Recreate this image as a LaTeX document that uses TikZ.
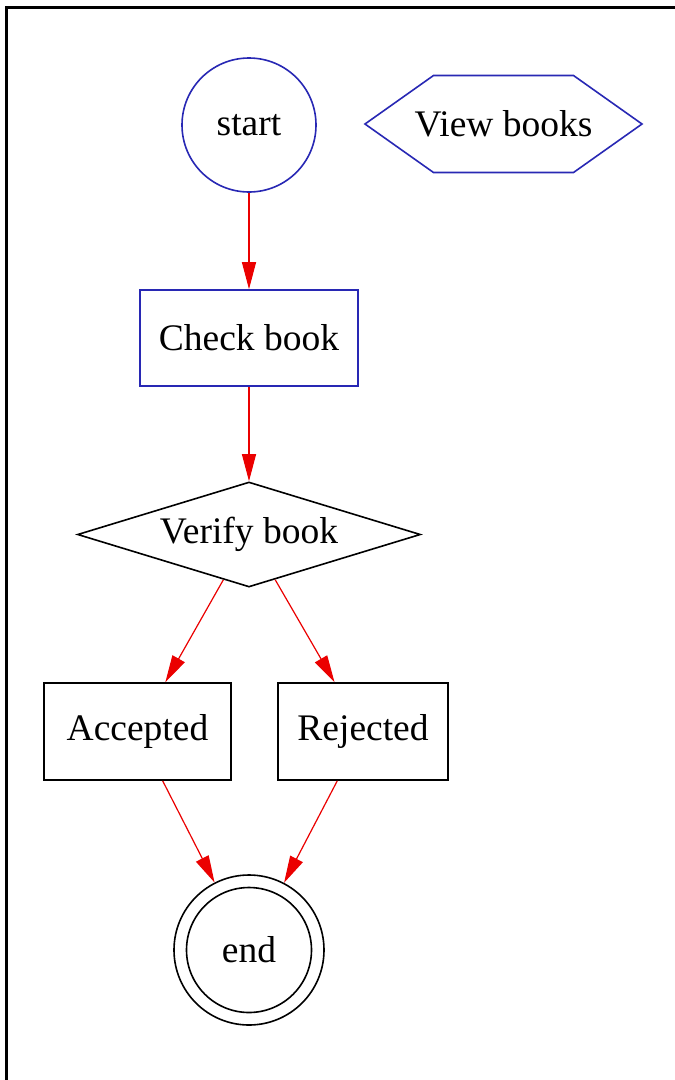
\documentclass[tikz,border=0pt]{standalone}
\usepackage{fontspec}
\setmainfont{Liberation Serif}
\usetikzlibrary{shapes.geometric,arrows.meta,calc}
\definecolor{nblue}{RGB}{40,40,180}
\definecolor{ered}{RGB}{235,0,0}
\begin{document}
\begin{tikzpicture}[x=1pt,y=-1pt,
  every node/.style={font=\fontsize{37.5}{44}\selectfont, inner sep=0pt},
  bnode/.style={draw=nblue, line width=1.6pt},
  knode/.style={draw=black, line width=1.6pt},
  edge/.style={draw=ered, line width=1.2pt, -{Triangle[length=27pt,width=14pt]}}]
\useasboundingbox (0,0) rectangle (675,1080);
\fill[white] (0,0) rectangle (675,1080);
\draw[line width=3pt] (6,1080) -- (6,7) -- (675,7);
% nodes
\node[bnode, circle, minimum size=134pt] (start) at (249,125) {start};
\node (view) at (503.5,124) {View books};
\draw[nblue, line width=1.6pt] ($(view)+(-138.5,0)$) -- ($(view)+(-70,-48.5)$) -- ($(view)+(70,-48.5)$)
  -- ($(view)+(138.5,0)$) -- ($(view)+(70,48.5)$) -- ($(view)+(-70,48.5)$) -- cycle;
\node[bnode, rectangle, minimum width=218pt, minimum height=96pt] (check) at (249,338) {Check book};
\node[knode, diamond, aspect=3.27, minimum width=343pt, minimum height=105pt] (verify) at (249,534.5) {Verify book};
\node[knode, rectangle, minimum width=187pt, minimum height=97pt] (acc) at (137.5,731.5) {Accepted};
\node[knode, rectangle, minimum width=170pt, minimum height=97pt] (rej) at (363,731.5) {Rejected};
\node[knode, circle, minimum size=150pt] (end) at (249,950) {};
\node[knode, circle, minimum size=125pt] (endin) at (end) {end};
% edges
\draw[edge] (start) -- (check);
\draw[edge] (check) -- (verify);
\draw[edge] (verify) -- (acc);
\draw[edge] (verify) -- (rej);
\draw[edge] (acc) -- (end);
\draw[edge] (rej) -- (end);
\end{tikzpicture}
\end{document}
